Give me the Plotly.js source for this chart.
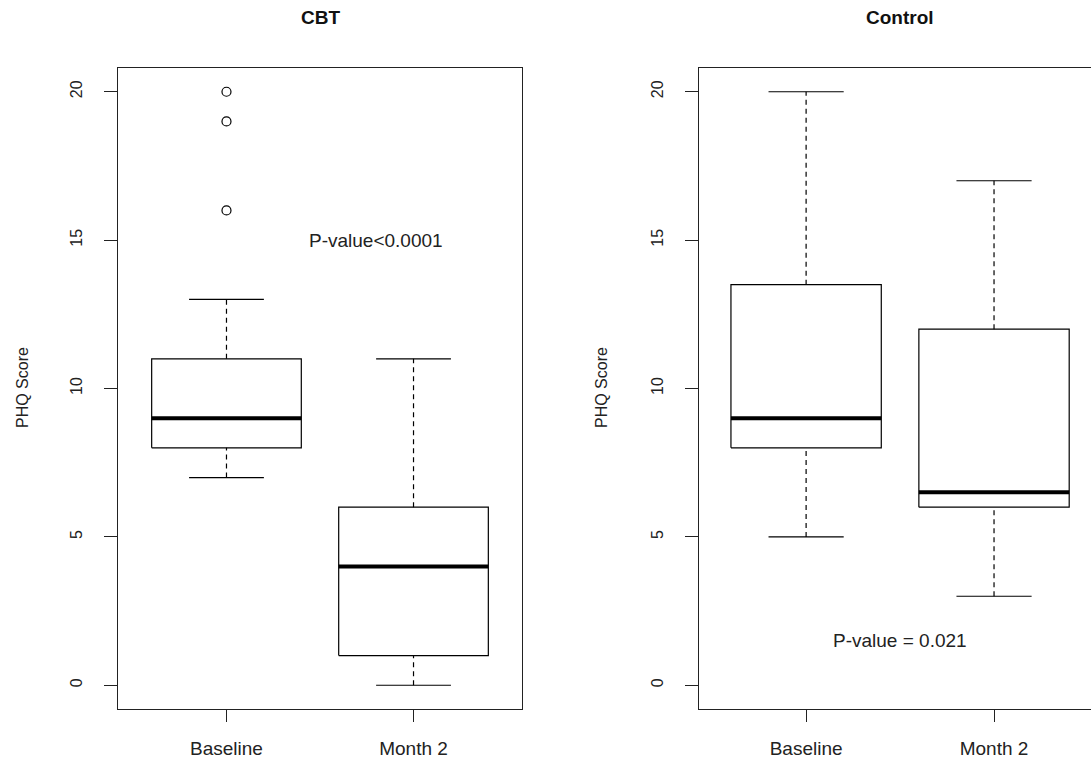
<!DOCTYPE html>
<html>
<head>
<meta charset="utf-8">
<script src="https://cdn.plot.ly/plotly-3.0.1.min.js"></script>
<style>html,body{margin:0;padding:0;background:#fff;}#chart{width:1091px;height:759px;}</style>
</head>
<body>
<div id="chart"></div>
<script>
// ---- data ----
const groups = ["Baseline", "Month 2"];
const panels = ["CBT", "Control"];
const whiskerLow  = { CBT: [7, 0],  Control: [5, 3] };
const q1          = { CBT: [8, 1],  Control: [8, 6] };
const median      = { CBT: [9, 4],  Control: [9, 6.5] };
const q3          = { CBT: [11, 6], Control: [13.5, 12] };
const whiskerHigh = { CBT: [13, 11], Control: [20, 17] };
const outliers    = { CBT: [[20, 19, 16], []], Control: [[], []] };
const pValues     = { CBT: "P-value<0.0001", Control: "P-value = 0.021" };
const pValuePos   = { CBT: [1.8, 15], Control: [1.5, 1.5] };
const yTicks = [0, 5, 10, 15, 20];

// ---- build traces ----
const FONT = '"Liberation Sans", Arial, sans-serif';
const halfBox = 0.4, halfCap = 0.2;
const traces = [];
panels.forEach((p, pi) => {
  const xa = pi === 0 ? 'x' : 'x2';
  const ya = pi === 0 ? 'y' : 'y2';
  const bx = [], by = [], wx = [], wy = [], cx = [], cy = [], mx = [], my = [], ox = [], oy = [];
  groups.forEach((g, gi) => {
    const c = gi + 1;
    bx.push(c - halfBox, c + halfBox, c + halfBox, c - halfBox, c - halfBox, null);
    by.push(q1[p][gi], q1[p][gi], q3[p][gi], q3[p][gi], q1[p][gi], null);
    wx.push(c, c, null, c, c, null);
    wy.push(whiskerLow[p][gi], q1[p][gi], null, q3[p][gi], whiskerHigh[p][gi], null);
    cx.push(c - halfCap, c + halfCap, null, c - halfCap, c + halfCap, null);
    cy.push(whiskerLow[p][gi], whiskerLow[p][gi], null, whiskerHigh[p][gi], whiskerHigh[p][gi], null);
    mx.push(c - halfBox, c + halfBox, null);
    my.push(median[p][gi], median[p][gi], null);
    outliers[p][gi].forEach(v => { ox.push(c); oy.push(v); });
  });
  traces.push({x: wx, y: wy, xaxis: xa, yaxis: ya, mode: 'lines', line: {color: '#000', width: 1.2, dash: '5px,4px'}, hoverinfo: 'skip', showlegend: false});
  traces.push({x: cx, y: cy, xaxis: xa, yaxis: ya, mode: 'lines', line: {color: '#000', width: 1.2}, hoverinfo: 'skip', showlegend: false});
  traces.push({x: bx, y: by, xaxis: xa, yaxis: ya, mode: 'lines', fill: 'none', line: {color: '#000', width: 1.2}, hoverinfo: 'skip', showlegend: false});
  traces.push({x: mx, y: my, xaxis: xa, yaxis: ya, mode: 'lines', line: {color: '#000', width: 4}, hoverinfo: 'skip', showlegend: false});
  if (ox.length) traces.push({x: ox, y: oy, xaxis: xa, yaxis: ya, mode: 'markers', marker: {symbol: 'circle-open', size: 9, color: '#000', line: {width: 1.2}}, hoverinfo: 'skip', showlegend: false});
});

function xAxis(domain, range, mirror) {
  return {domain: domain, range: range, tickvals: [1, 2], ticktext: groups, ticks: 'outside', ticklen: 12,
    tickcolor: '#222', tickwidth: 1, showline: true, mirror: mirror, linecolor: '#222', linewidth: 1,
    showgrid: false, zeroline: false, ticklabelstandoff: 10, tickfont: {family: FONT, size: 19, color: '#222'}, fixedrange: true};
}
function yAxis(domain, mirror) {
  return {domain: domain, range: [-0.8, 20.8], tickvals: yTicks, ticktext: yTicks.map(String), ticks: 'outside', ticklen: 13,
    tickcolor: '#222', tickwidth: 1, showline: true, mirror: mirror, linecolor: '#222', linewidth: 1,
    showgrid: false, zeroline: false, tickangle: -90, ticklabelstandoff: 16, tickfont: {family: FONT, size: 16, color: '#222'}, fixedrange: true};
}
const yDom = [50 / 759, 691 / 759];
const annotations = [];
const titleX = [320 / 1091, 900 / 1091];
const yTitleX = [22 / 1091, 601 / 1091];
panels.forEach((p, pi) => {
  annotations.push({text: '<b>' + p + '</b>', xref: 'paper', yref: 'paper', x: titleX[pi], y: 1 - 17 / 759, xanchor: 'center', yanchor: 'middle', showarrow: false, font: {family: FONT, size: 19, color: '#111'}});
  annotations.push({text: 'PHQ Score', xref: 'paper', yref: 'paper', x: yTitleX[pi], y: 1 - 388 / 759, textangle: -90, xanchor: 'center', yanchor: 'middle', showarrow: false, font: {family: FONT, size: 16, color: '#222'}});
  annotations.push({text: pValues[p], xref: pi === 0 ? 'x' : 'x2', yref: pi === 0 ? 'y' : 'y2', x: pValuePos[p][0], y: pValuePos[p][1], xanchor: 'center', yanchor: 'middle', showarrow: false, font: {family: FONT, size: 19, color: '#222'}});
});

const layout = {
  width: 1091, height: 759, margin: {l: 0, r: 0, t: 0, b: 0},
  paper_bgcolor: '#fff', plot_bgcolor: '#fff', showlegend: false,
  xaxis: xAxis([118 / 1091, 522 / 1091], [0.42, 2.58], true),
  yaxis: yAxis(yDom, true),
  xaxis2: Object.assign(xAxis([699 / 1091, 1], [0.43, 2.516], true), {anchor: 'y2'}),
  yaxis2: Object.assign(yAxis(yDom, false), {anchor: 'x2'}),
  annotations: annotations
};
layout.xaxis.anchor = 'y';
layout.yaxis.anchor = 'x';
Plotly.newPlot('chart', traces, layout, {displayModeBar: false, staticPlot: true});
</script>
</body>
</html>
